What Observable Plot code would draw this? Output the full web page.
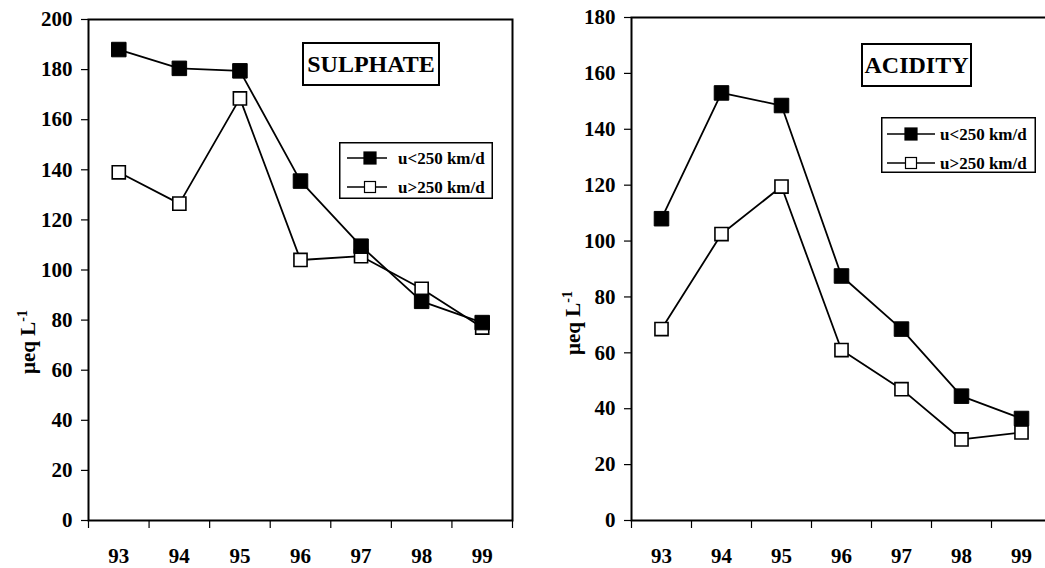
<!DOCTYPE html>
<html><head><meta charset="utf-8">
<script src="https://cdn.jsdelivr.net/npm/d3@7"></script>
<script src="https://cdn.jsdelivr.net/npm/@observablehq/plot@0.6"></script>
<style>
body{margin:0;background:#fff;overflow:hidden;}
#wrap{position:relative;width:1045px;height:568px;overflow:hidden;font-family:"Liberation Serif","Times New Roman",serif;font-weight:bold;color:#000;background:#fff;}
.panel{position:absolute;top:0;}
svg.panel, svg.panel text{font-family:"Liberation Serif","Times New Roman",serif !important;font-weight:bold !important;font-size:21px;}
.title{position:absolute;border:2px solid #000;box-sizing:border-box;display:flex;align-items:center;justify-content:center;font-size:24px;background:#fff;}
.legend{position:absolute;}
.ylab{position:absolute;font-size:21px;white-space:nowrap;transform:translate(-50%,-50%) rotate(-90deg);}
.ylab sup{font-size:14px;}
</style></head>
<body><div id="wrap"></div>
<script>
// ---- data ----
const years = [93, 94, 95, 96, 97, 98, 99];
const yearBounds = [92.5, 93.5, 94.5, 95.5, 96.5, 97.5, 98.5, 99.5];
const seriesNames = ["u<250 km/d", "u>250 km/d"];
const sulphateLow  = [188, 180.5, 179.5, 135.5, 109.5, 87.5, 79];
const sulphateHigh = [139, 126.5, 168.5, 104, 105.5, 92.5, 77];
const acidityLow   = [108, 153, 148.5, 87.5, 68.5, 44.5, 36.5];
const acidityHigh  = [68.5, 102.5, 119.5, 61, 47, 29, 31.5];
const sulphateTicks = [0, 20, 40, 60, 80, 100, 120, 140, 160, 180, 200];
const acidityTicks  = [0, 20, 40, 60, 80, 100, 120, 140, 160, 180];

const wrap = document.getElementById("wrap");

function makePanel(cfg) {
  const low = years.map((x, i) => ({x, y: cfg.low[i]}));
  const high = years.map((x, i) => ({x, y: cfg.high[i]}));
  const chart = Plot.plot({
    width: cfg.width, height: 568,
    marginLeft: cfg.mL, marginRight: cfg.mR, marginTop: cfg.mT, marginBottom: 48,
    style: {fontFamily: '"Liberation Serif", serif', fontSize: "21px", fontWeight: "bold", color: "#000", background: "transparent", overflow: "visible"},
    x: {domain: [92.5, 99.5], axis: null},
    y: {domain: [0, cfg.yMax], axis: null},
    marks: [
      Plot.frame({stroke: "#000", strokeWidth: 2}),
      Plot.axisX({ticks: yearBounds, tickFormat: () => "", tickSize: 8, strokeWidth: 1.2, label: null}),
      Plot.axisX({ticks: years, tickSize: 0, tickPadding: 28, tickFormat: d => String(d), label: null}),
      Plot.axisY({ticks: cfg.ticks, tickSize: 7, tickPadding: 9, strokeWidth: 1.2, label: null}),
      Plot.line(high, {x: "x", y: "y", stroke: "#000", strokeWidth: 1.8}),
      Plot.line(low, {x: "x", y: "y", stroke: "#000", strokeWidth: 1.8}),
      Plot.dot(high, {x: "x", y: "y", symbol: "square", r: 7.4, fill: "#fff", stroke: "#000", strokeWidth: 1.6}),
      Plot.dot(low, {x: "x", y: "y", symbol: "square", r: 8.2, fill: "#000", stroke: "#000", strokeWidth: 1})
    ]
  });
  chart.classList.add("panel");
  chart.style.left = cfg.left + "px";
  wrap.appendChild(chart);

  const t = document.createElement("div");
  t.className = "title";
  t.textContent = cfg.title;
  Object.assign(t.style, {left: cfg.tb[0] + "px", top: cfg.tb[1] + "px", width: cfg.tb[2] + "px", height: cfg.tb[3] + "px"});
  wrap.appendChild(t);

  const yl = document.createElement("div");
  yl.className = "ylab";
  yl.innerHTML = "\u03bceq L<sup>-1</sup>";
  yl.style.left = cfg.yl[0] + "px";
  yl.style.top = cfg.yl[1] + "px";
  wrap.appendChild(yl);

  // legend
  const [lx, ly, lw, lh, r1, r2, l0, l1, mx, tx] = cfg.lg;
  const svg = d3.create("svg").attr("class", "legend").attr("width", lw).attr("height", lh)
    .style("left", lx + "px").style("top", ly + "px");
  svg.append("rect").attr("x", 0.75).attr("y", 0.75).attr("width", lw - 1.5).attr("height", lh - 1.5)
    .attr("fill", "#fff").attr("stroke", "#000").attr("stroke-width", 1.5);
  [[r1, "#000", 12], [r2, "#fff", 11]].forEach(([ry, fill, s], i) => {
    svg.append("line").attr("x1", l0).attr("x2", l1).attr("y1", ry).attr("y2", ry).attr("stroke", "#000").attr("stroke-width", 1.3);
    svg.append("rect").attr("x", mx - s / 2).attr("y", ry - s / 2).attr("width", s).attr("height", s)
      .attr("fill", fill).attr("stroke", "#000").attr("stroke-width", 1.2);
    svg.append("text").attr("x", tx).attr("y", ry).attr("dy", "0.35em")
      .attr("font-family", '"Liberation Serif", serif').attr("font-weight", "bold").attr("font-size", 17)
      .text(seriesNames[i]);
  });
  wrap.appendChild(svg.node());
}

makePanel({low: sulphateLow, high: sulphateHigh, yMax: 200, ticks: sulphateTicks, title: "SULPHATE",
  left: 0, width: 520, mL: 88, mR: 8, mT: 19,
  tb: [302, 42, 138, 44], yl: [28, 342],
  lg: [339, 142, 154, 57, 16, 45, 8, 48, 31, 59]});
makePanel({low: acidityLow, high: acidityHigh, yMax: 180, ticks: acidityTicks, title: "ACIDITY",
  left: 520, width: 535, mL: 111, mR: 4, mT: 17,
  tb: [861, 43, 111, 44], yl: [573, 323],
  lg: [881, 117, 155, 56, 17, 46, 6, 54, 30, 59]});
</script>
</body></html>
